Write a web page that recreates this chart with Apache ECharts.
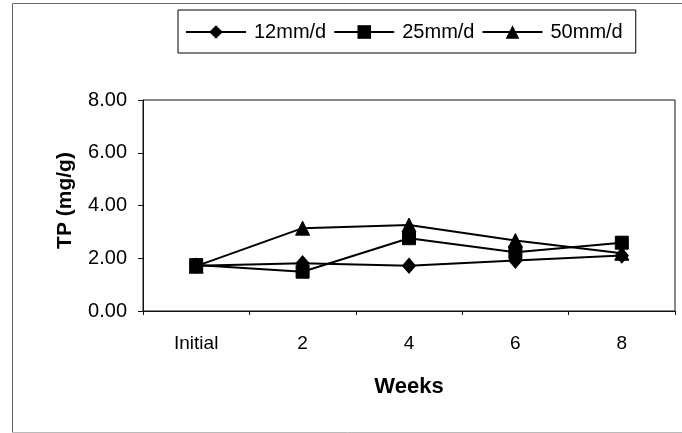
<!DOCTYPE html>
<html>
<head>
<meta charset="utf-8">
<script src="https://cdn.jsdelivr.net/npm/echarts@6/dist/echarts.min.js"></script>
<style>
  html, body { margin: 0; padding: 0; background: #fff; }
  #chart { width: 682px; height: 433px; }
</style>
</head>
<body>
<div id="chart"></div>
<script>
// Sampling times (x axis categories)
const weeks = ['Initial', '2', '4', '6', '8'];

// TP content (mg/g) for each loading rate
const tp12 = [1.72, 1.81, 1.72, 1.91, 2.10];
const tp25 = [1.74, 1.49, 2.76, 2.23, 2.59];
const tp50 = [1.70, 3.14, 3.26, 2.67, 2.19];

const seriesNames = ['12mm/d', '25mm/d', '50mm/d'];
const seriesData = [tp12, tp25, tp50];
const seriesSymbols = ['diamond', 'rect', 'triangle'];
const seriesSymbolSizes = [[13, 15], 13, [14, 14]];

const yTicks = { min: 0, max: 8, interval: 2 };

const chart = echarts.init(document.getElementById('chart'), null, { renderer: 'canvas' });

const font = 'Liberation Sans, Arial, sans-serif';

chart.setOption({
  backgroundColor: '#fff',
  animation: false,
  graphic: [
    {
      type: 'polyline',
      silent: true,
      shape: { points: [[682, 3.5], [12.5, 3.5], [12.5, 432.5]] },
      style: { stroke: '#666', lineWidth: 1, fill: null }
    },
    {
      type: 'line',
      silent: true,
      shape: { x1: 12.5, y1: 432.5, x2: 682, y2: 432.5 },
      style: { stroke: '#bbb', lineWidth: 1 }
    }
  ],
  legend: {
    left: 178,
    top: 10,
    padding: [12, 13, 11, 7],
    borderColor: '#000',
    borderWidth: 1,
    itemWidth: 60,
    itemHeight: 17,
    itemGap: 7,
    textStyle: { fontFamily: font, fontSize: 20, color: '#000', padding: [0, 0, 0, 3] },
    data: seriesNames
  },
  grid: {
    left: 143,
    right: 7,
    top: 100,
    bottom: 122,
    show: true,
    borderColor: '#111',
    borderWidth: 1
  },
  xAxis: {
    type: 'category',
    data: weeks,
    boundaryGap: true,
    name: 'Weeks',
    nameLocation: 'middle',
    nameGap: 65,
    nameTextStyle: { fontFamily: font, fontSize: 22, fontWeight: 'bold', color: '#000' },
    axisLine: { lineStyle: { color: '#111', width: 1 } },
    axisTick: { show: true, length: 4, inside: false, lineStyle: { color: '#111' } },
    axisLabel: { fontFamily: font, fontSize: 19, color: '#000', margin: 23 },
    splitLine: { show: false }
  },
  yAxis: {
    type: 'value',
    min: yTicks.min,
    max: yTicks.max,
    interval: yTicks.interval,
    name: 'TP (mg/g)',
    nameLocation: 'middle',
    nameGap: 67,
    nameTextStyle: {
      fontFamily: font, fontSize: 21, fontWeight: 'bold', color: '#000',
      padding: [0, 0, 0, 10]
    },
    axisLine: { show: true, lineStyle: { color: '#111', width: 1 } },
    axisTick: { show: true, length: 5, inside: false, lineStyle: { color: '#111' } },
    axisLabel: {
      fontFamily: font, fontSize: 20, color: '#000', margin: 16,
      formatter: v => v.toFixed(2)
    },
    splitLine: { show: false }
  },
  series: seriesNames.map((name, i) => ({
    name,
    type: 'line',
    data: seriesData[i],
    symbol: seriesSymbols[i],
    symbolSize: seriesSymbolSizes[i],
    showAllSymbol: true,
    lineStyle: { color: '#000', width: 2 },
    itemStyle: { color: '#000', borderColor: '#000' },
    emphasis: { disabled: true }
  }))
});
</script>
</body>
</html>
